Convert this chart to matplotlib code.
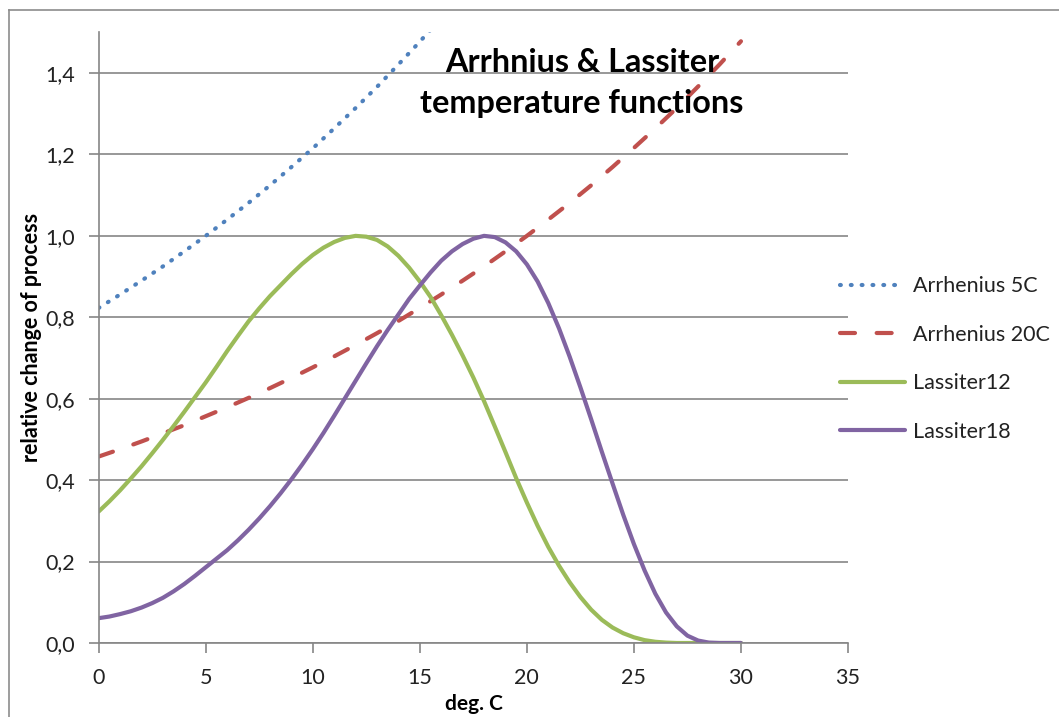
import matplotlib
matplotlib.use("Agg")
import matplotlib.pyplot as plt
from matplotlib.lines import Line2D

# values (deg. C vs relative change)
arrh_temp = list(range(0, 31))
arrh5 = [0.823, 0.856, 0.890, 0.925, 0.962, 1.000, 1.040, 1.081, 1.124,
         1.169, 1.215, 1.264, 1.314, 1.366, 1.421, 1.477, 1.536]
arrh20 = [0.458, 0.476, 0.495, 0.515, 0.535, 0.557, 0.579, 0.602, 0.626,
          0.651, 0.677, 0.704, 0.732, 0.761, 0.791, 0.823, 0.856, 0.890,
          0.925, 0.962, 1.000, 1.040, 1.081, 1.124, 1.169, 1.216, 1.264,
          1.314, 1.367, 1.421, 1.478]

# Lassiter curves read every half degree, 0 .. 30
lass_temp = [i / 2 for i in range(61)]
lass12 = [0.323, 0.348, 0.375, 0.404, 0.434, 0.466, 0.499, 0.533, 0.568,
          0.604, 0.640, 0.678, 0.717, 0.754, 0.790, 0.822, 0.852, 0.879,
          0.906, 0.931, 0.953, 0.971, 0.985, 0.995, 1.000, 0.998, 0.990,
          0.974, 0.951, 0.922, 0.888, 0.850, 0.805, 0.757, 0.706, 0.652,
          0.594, 0.532, 0.469, 0.405, 0.345, 0.288, 0.236, 0.190, 0.149,
          0.113, 0.082, 0.057, 0.038, 0.024, 0.014, 0.007, 0.003, 0.001,
          0.0, 0.0, 0.0, 0.0, 0.0, 0.0, 0.0]
lass18 = [0.061, 0.065, 0.071, 0.078, 0.087, 0.098, 0.111, 0.127, 0.145,
          0.165, 0.186, 0.207, 0.228, 0.252, 0.278, 0.306, 0.336, 0.368,
          0.402, 0.438, 0.476, 0.516, 0.558, 0.601, 0.644, 0.687, 0.729,
          0.769, 0.807, 0.845, 0.878, 0.910, 0.939, 0.962, 0.980, 0.993,
          1.000, 0.997, 0.984, 0.962, 0.930, 0.888, 0.835, 0.773, 0.703,
          0.628, 0.550, 0.470, 0.392, 0.315, 0.243, 0.178, 0.121, 0.075,
          0.041, 0.018, 0.006, 0.001, 0.0, 0.0, 0.0]

series_names = ["Arrhenius 5C", "Arrhenius 20C", "Lassiter12", "Lassiter18"]
x_ticks = [0, 5, 10, 15, 20, 25, 30, 35]
y_ticks = [0.0, 0.2, 0.4, 0.6, 0.8, 1.0, 1.2, 1.4]
y_tick_labels = ["0,0", "0,2", "0,4", "0,6", "0,8", "1,0", "1,2", "1,4"]

plt.rcParams["font.family"] = ["Lato", "DejaVu Sans"]
grey = "#868686"

fig = plt.figure(figsize=(10.59, 7.17), dpi=100)
ax = fig.add_axes([98.7 / 1059, 1 - 643 / 717, 749.3 / 1059, 610.7 / 717])

ax.plot(arrh_temp[:len(arrh5)], arrh5, color="#4F81BD", lw=3.0,
        linestyle=(0, (0.2, 2.4)), dash_capstyle="round", label=series_names[0])
ax.plot(arrh_temp, arrh20, color="#C0504D", lw=3.0,
        linestyle=(0, (3.6, 5.2)), dash_capstyle="round", label=series_names[1])
ax.plot(lass_temp, lass12, color="#9BBB59", lw=3.0, solid_capstyle="round",
        label=series_names[2])
ax.plot(lass_temp, lass18, color="#8064A2", lw=3.0, solid_capstyle="round",
        label=series_names[3])

ax.set_xlim(0, 35)
ax.set_ylim(0, 1.5)
ax.set_xticks(x_ticks)
ax.set_yticks(y_ticks)
ax.set_yticklabels(y_tick_labels)
ax.yaxis.grid(True, color=grey, lw=1.2)
ax.set_axisbelow(True)
for side in ["top", "right"]:
    ax.spines[side].set_visible(False)
for side in ["left", "bottom"]:
    ax.spines[side].set_color(grey)
    ax.spines[side].set_linewidth(1.2)
ax.tick_params(axis="both", direction="out", length=7, width=1.2, color=grey,
               labelsize=15.5, labelcolor="#222222")
ax.tick_params(axis="y", pad=10)
ax.tick_params(axis="x", pad=11)

# outer chart border (only top and left edges are visible in the crop)
fig.add_artist(Line2D([9 / 1059, 9 / 1059], [0, 1 - 10 / 717],
                      transform=fig.transFigure, color="#8c8c8c", lw=1.2))
fig.add_artist(Line2D([9 / 1059, 1], [1 - 10 / 717, 1 - 10 / 717],
                      transform=fig.transFigure, color="#8c8c8c", lw=1.2))

fig.text(582 / 1059, 1 - 62 / 717, "Arrhnius & Lassiter", ha="center",
         va="center", fontsize=23.3, fontweight="bold")
fig.text(582 / 1059, 1 - 103 / 717, "temperature functions", ha="center",
         va="center", fontsize=23.3, fontweight="bold")
fig.text(31.7 / 1059, 1 - 337.5 / 717, "relative change of process",
         rotation=90, ha="center", va="center", fontsize=15.5, fontweight="bold")
fig.text(474 / 1059, 1 - 704 / 717, "deg. C", ha="center", va="center",
         fontsize=15, fontweight="bold")

fig.legend(loc="center left", bbox_to_anchor=(840 / 1059, 1 - 359 / 717),
           frameon=False, fontsize=15.5, handlelength=3.0, handletextpad=0.4,
           labelspacing=1.33, borderpad=0, borderaxespad=0, labelcolor="#222222")

fig.savefig("out.png", dpi=100)
